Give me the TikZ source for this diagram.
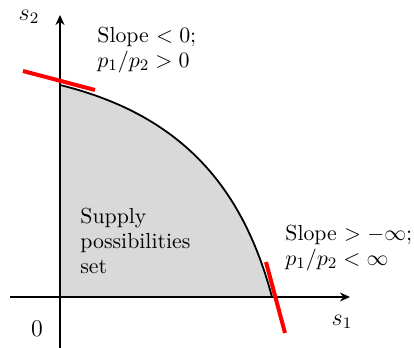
\documentclass[tikz,border=0pt]{standalone}
\usetikzlibrary{arrows.meta}
\definecolor{setgray}{HTML}{D9D9D9}
\tikzset{
  >={Stealth[length=5pt,width=4.5pt]},
  axis/.style={draw=black, line width=0.8pt, ->},
  frontier/.style={draw=black, line width=0.9pt},
  tangent/.style={draw=red, line width=2pt},
  note/.style={align=left, anchor=north west, inner sep=0pt,
    font=\fontsize{10.9pt}{12.4pt}\selectfont}
}

\begin{document}
\begin{tikzpicture}[x=0.5pt, y=-0.5pt]
  \useasboundingbox (0,0) rectangle (414,348);

  \coordinate (origin) at (60,297);
  \coordinate (xstart) at (10,297);
  \coordinate (xend) at (350,297);
  \coordinate (ystart) at (60,348);
  \coordinate (yend) at (60,15);
  \coordinate (top) at (60,85);
  \coordinate (bottom) at (272,297);

  % supply possibilities set
  \fill[setgray] (origin) -- (top)
    .. controls (186,116) and (244,192) .. (bottom) -- cycle;

  \draw[axis] (xstart) -- (xend);
  \draw[axis] (ystart) -- (yend);

  \draw[frontier] (top) .. controls (186,116) and (244,192) .. (bottom);

  % tangents at the two ends
  \coordinate (topL) at (23,71);
  \coordinate (topR) at (95,90);
  \coordinate (botU) at (266,262);
  \coordinate (botD) at (285,333);
  \draw[tangent] (topL) -- (topR);
  \draw[tangent] (botU) -- (botD);

  \node[font=\large] (s2) at (29,17) {$s_2$};
  \node[font=\large] (s1) at (342,322) {$s_1$};
  \node[font=\large] (zero) at (37,329) {$0$};

  \node[note] (topnote) at (97,27) {Slope $<0$;\\$p_1/p_2>0$};
  \node[note] (botnote) at (285,225) {Slope $>-\infty$;\\$p_1/p_2<\infty$};
  \node[note] (setlabel) at (80,208) {Supply\\possibilities\\set};
\end{tikzpicture}
\end{document}
